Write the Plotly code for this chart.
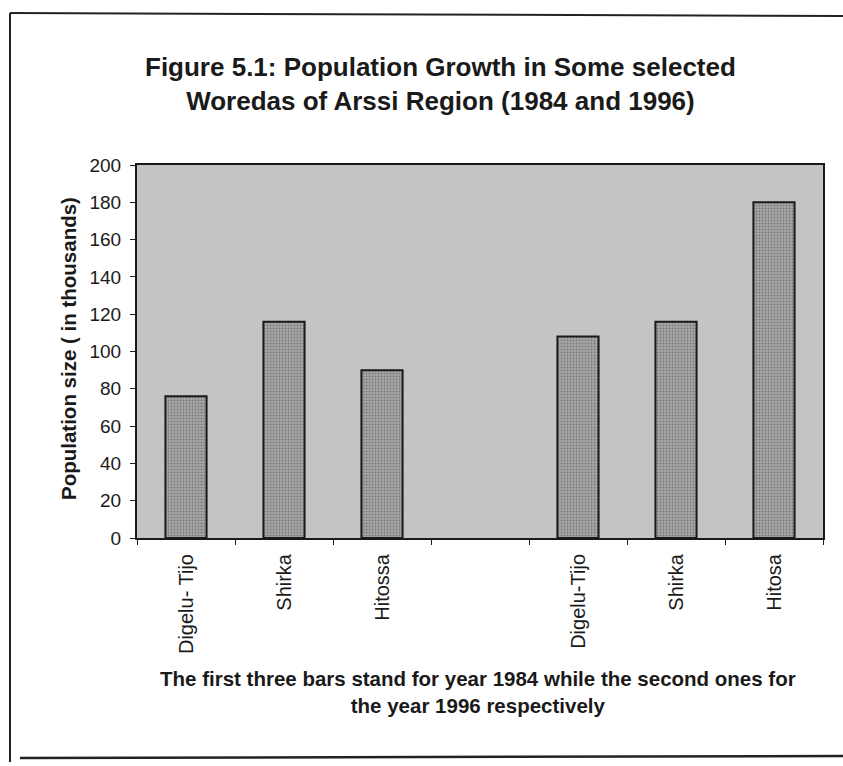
import plotly.graph_objects as go

# Population (thousands) of selected woredas, 1984 then 1996; a blank slot separates the years
years = ["1984", "1984", "1984", "", "1996", "1996", "1996"]
woredas = ["Digelu- Tijo", "Shirka", "Hitossa", "", "Digelu-Tijo", "Shirka", "Hitosa"]
population = [76, 116, 90, None, 108, 116, 180]
y_ticks = [0, 20, 40, 60, 80, 100, 120, 140, 160, 180, 200]

title_text = "Figure 5.1: Population Growth in Some selected<br>Woredas of Arssi Region (1984 and 1996)"
y_title = "Population size ( in thousands)"
caption = ("The first three bars stand for year 1984 while the second ones for<br>"
           "the year 1996 respectively")

W, H = 843, 766
L, R, T, B = 137, 20, 165, 228
PW, PH = W - L - R, H - T - B


def px(x):
    return (x - L) / PW


def py(y):
    return (H - B - y) / PH


keys = [f"{y}|{w}" if w else "gap" for y, w in zip(years, woredas)]

fig = go.Figure(
    go.Bar(
        x=keys,
        y=population,
        width=0.42,
        marker=dict(
            color="#9a9a9a",
            line=dict(color="#1a1a1a", width=2),
            pattern=dict(shape=".", fgcolor="#4a4a4a", bgcolor="#a8a8a8",
                         size=3, solidity=0.35),
        ),
        hoverinfo="skip",
    )
)

base_font = "Liberation Sans, Arial, sans-serif"

fig.update_layout(
    width=W,
    height=H,
    margin=dict(l=L, r=R, t=T, b=B, pad=0),
    paper_bgcolor="white",
    plot_bgcolor="#c4c4c4",
    showlegend=False,
    font=dict(family=base_font, color="#1a1a1a"),
)

fig.update_xaxes(
    type="category",
    tickvals=keys,
    ticktext=woredas,
    tickangle=-90,
    tickfont=dict(size=20, family=base_font, color="#1a1a1a"),
    ticks="outside",
    tickson="boundaries",
    ticklen=5,
    tickcolor="#1a1a1a",
    showline=True,
    linecolor="#1a1a1a",
    linewidth=2,
    mirror=True,
    showgrid=False,
    ticklabelstandoff=6,
)

fig.update_yaxes(
    range=[0, 200],
    tickvals=y_ticks,
    tickfont=dict(size=19, family=base_font, color="#1a1a1a"),
    ticks="outside",
    ticklen=5,
    tickcolor="#1a1a1a",
    ticklabelstandoff=5,
    showline=True,
    linecolor="#1a1a1a",
    linewidth=2,
    mirror=True,
    showgrid=False,
    zeroline=False,
)

annotations = [
    dict(text=f"<b>{title_text}</b>", x=px(440), y=py(84), xref="paper", yref="paper",
         xanchor="center", yanchor="middle", showarrow=False,
         font=dict(size=26, family=base_font, color="#1a1a1a")),
    dict(text=f"<b>{y_title}</b>", x=px(68), y=py(349), xref="paper", yref="paper",
         xanchor="center", yanchor="middle", textangle=-90, showarrow=False,
         font=dict(size=20.5, family=base_font, color="#1a1a1a")),
    dict(text=f"<b>{caption}</b>", x=px(478), y=py(692), xref="paper", yref="paper",
         xanchor="center", yanchor="middle", showarrow=False,
         font=dict(size=20.5, family=base_font, color="#1a1a1a")),
]
fig.update_layout(annotations=annotations)

# Page frame around the figure
frame = [
    (10, 13, 843, 16, 2),
    (10, 13, 10, 762, 2),
    (20, 758, 843, 756, 2.5),
]
fig.update_layout(shapes=[
    dict(type="line", xref="paper", yref="paper",
         x0=px(a), y0=py(b), x1=px(c), y1=py(d),
         line=dict(color="#222222", width=w))
    for a, b, c, d, w in frame
])

fig.write_html("out.html")
